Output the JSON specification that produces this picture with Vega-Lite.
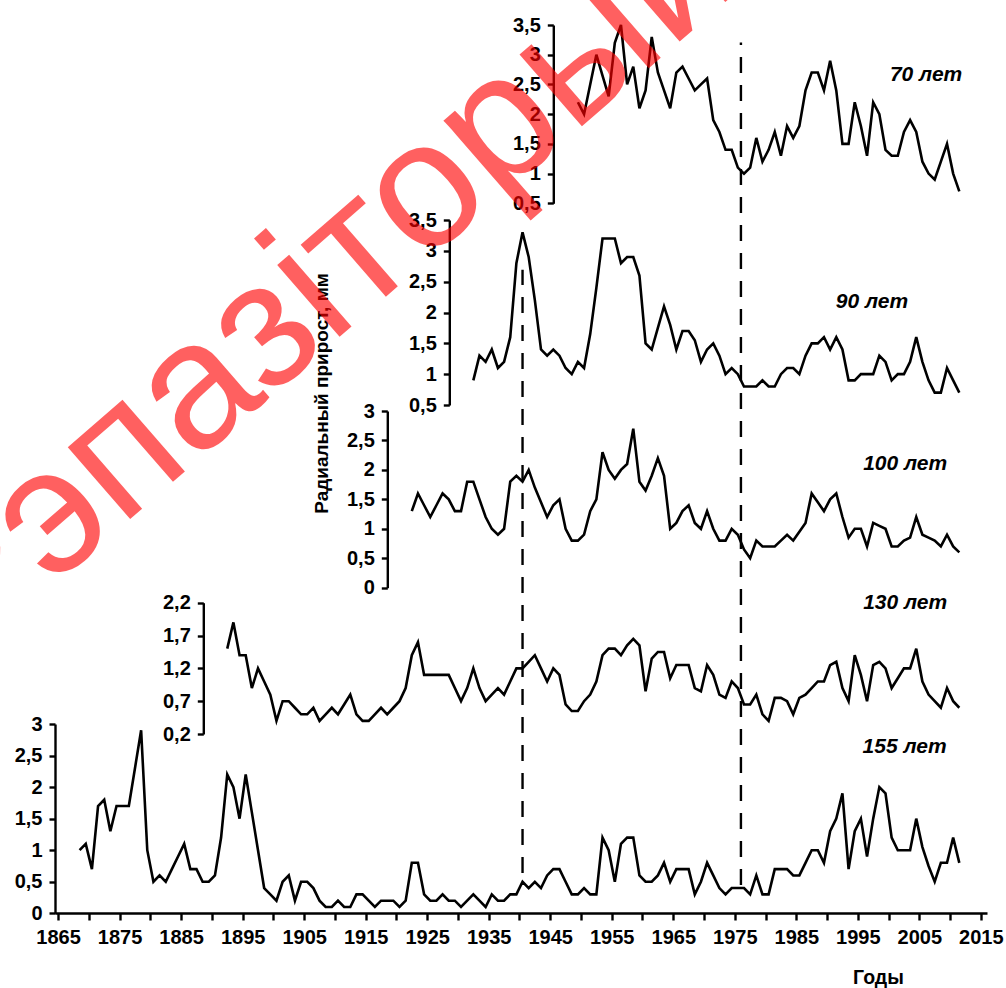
{
"$schema": "https://vega.github.io/schema/vega-lite/v6.json",
"width": 932, "height": 893,
"autosize": {"type": "none"},
"padding": {"left": 55, "top": 20, "right": 19, "bottom": 75},
"background": "white",
"config": {
 "view": {"stroke": null},
 "font": "Liberation Sans",
 "axis": {"grid": false, "domainColor": "black", "domainWidth": 2.4, "tickColor": "black", "tickWidth": 2.4, "labelColor": "black", "labelFont": "Liberation Sans", "labelFontWeight": "bold", "labelFontSize": 20, "labelFlush": false, "labelOverlap": false, "titleFont": "Liberation Sans", "titleFontWeight": "bold", "titleColor": "black", "titleFontSize": 19}
},
"datasets": {
 "s155": [
{"year":1868,"value":1.0},{"year":1869,"value":1.1},{"year":1870,"value":0.7},{"year":1871,"value":1.7},{"year":1872,"value":1.8},{"year":1873,"value":1.3},{"year":1874,"value":1.7},{"year":1875,"value":1.7},{"year":1876,"value":1.7},{"year":1877,"value":2.3},{"year":1878,"value":2.9},{"year":1879,"value":1.0},{"year":1880,"value":0.5},{"year":1881,"value":0.6},{"year":1882,"value":0.5},{"year":1883,"value":0.7},{"year":1884,"value":0.9},{"year":1885,"value":1.1},{"year":1886,"value":0.7},{"year":1887,"value":0.7},{"year":1888,"value":0.5},{"year":1889,"value":0.5},{"year":1890,"value":0.6},{"year":1891,"value":1.2},{"year":1892,"value":2.2},{"year":1893,"value":2.0},{"year":1894,"value":1.5},{"year":1895,"value":2.2},{"year":1896,"value":1.6},{"year":1897,"value":1.0},{"year":1898,"value":0.4},{"year":1899,"value":0.3},{"year":1900,"value":0.2},{"year":1901,"value":0.5},{"year":1902,"value":0.6},{"year":1903,"value":0.2},{"year":1904,"value":0.5},{"year":1905,"value":0.5},{"year":1906,"value":0.4},{"year":1907,"value":0.2},{"year":1908,"value":0.1},{"year":1909,"value":0.1},{"year":1910,"value":0.2},{"year":1911,"value":0.1},{"year":1912,"value":0.1},{"year":1913,"value":0.3},{"year":1914,"value":0.3},{"year":1915,"value":0.2},{"year":1916,"value":0.1},{"year":1917,"value":0.2},{"year":1918,"value":0.2},{"year":1919,"value":0.2},{"year":1920,"value":0.1},{"year":1921,"value":0.2},{"year":1922,"value":0.8},{"year":1923,"value":0.8},{"year":1924,"value":0.3},{"year":1925,"value":0.2},{"year":1926,"value":0.2},{"year":1927,"value":0.3},{"year":1928,"value":0.2},{"year":1929,"value":0.2},{"year":1930,"value":0.1},{"year":1931,"value":0.2},{"year":1932,"value":0.3},{"year":1933,"value":0.2},{"year":1934,"value":0.1},{"year":1935,"value":0.3},{"year":1936,"value":0.2},{"year":1937,"value":0.2},{"year":1938,"value":0.3},{"year":1939,"value":0.3},{"year":1940,"value":0.5},{"year":1941,"value":0.4},{"year":1942,"value":0.5},{"year":1943,"value":0.4},{"year":1944,"value":0.6},{"year":1945,"value":0.7},{"year":1946,"value":0.7},{"year":1947,"value":0.5},{"year":1948,"value":0.3},{"year":1949,"value":0.3},{"year":1950,"value":0.4},{"year":1951,"value":0.3},{"year":1952,"value":0.3},{"year":1953,"value":1.2},{"year":1954,"value":1.0},{"year":1955,"value":0.5},{"year":1956,"value":1.1},{"year":1957,"value":1.2},{"year":1958,"value":1.2},{"year":1959,"value":0.6},{"year":1960,"value":0.5},{"year":1961,"value":0.5},{"year":1962,"value":0.6},{"year":1963,"value":0.8},{"year":1964,"value":0.5},{"year":1965,"value":0.7},{"year":1966,"value":0.7},{"year":1967,"value":0.7},{"year":1968,"value":0.3},{"year":1969,"value":0.5},{"year":1970,"value":0.8},{"year":1971,"value":0.6},{"year":1972,"value":0.4},{"year":1973,"value":0.3},{"year":1974,"value":0.4},{"year":1975,"value":0.4},{"year":1976,"value":0.4},{"year":1977,"value":0.3},{"year":1978,"value":0.6},{"year":1979,"value":0.3},{"year":1980,"value":0.3},{"year":1981,"value":0.7},{"year":1982,"value":0.7},{"year":1983,"value":0.7},{"year":1984,"value":0.6},{"year":1985,"value":0.6},{"year":1986,"value":0.8},{"year":1987,"value":1.0},{"year":1988,"value":1.0},{"year":1989,"value":0.8},{"year":1990,"value":1.3},{"year":1991,"value":1.5},{"year":1992,"value":1.9},{"year":1993,"value":0.7},{"year":1994,"value":1.3},{"year":1995,"value":1.5},{"year":1996,"value":0.9},{"year":1997,"value":1.5},{"year":1998,"value":2.0},{"year":1999,"value":1.9},{"year":2000,"value":1.2},{"year":2001,"value":1.0},{"year":2002,"value":1.0},{"year":2003,"value":1.0},{"year":2004,"value":1.5},{"year":2005,"value":1.05},{"year":2006,"value":0.75},{"year":2007,"value":0.5},{"year":2008,"value":0.8},{"year":2009,"value":0.8},{"year":2010,"value":1.2},{"year":2011,"value":0.8}
 ],
 "s130": [
{"year":1892,"value":1.5},{"year":1893,"value":1.9},{"year":1894,"value":1.4},{"year":1895,"value":1.4},{"year":1896,"value":0.9},{"year":1897,"value":1.2},{"year":1898,"value":1.0},{"year":1899,"value":0.8},{"year":1900,"value":0.4},{"year":1901,"value":0.7},{"year":1902,"value":0.7},{"year":1903,"value":0.6},{"year":1904,"value":0.5},{"year":1905,"value":0.5},{"year":1906,"value":0.6},{"year":1907,"value":0.4},{"year":1908,"value":0.5},{"year":1909,"value":0.6},{"year":1910,"value":0.5},{"year":1911,"value":0.65},{"year":1912,"value":0.8},{"year":1913,"value":0.5},{"year":1914,"value":0.4},{"year":1915,"value":0.4},{"year":1916,"value":0.5},{"year":1917,"value":0.6},{"year":1918,"value":0.5},{"year":1919,"value":0.6},{"year":1920,"value":0.7},{"year":1921,"value":0.9},{"year":1922,"value":1.4},{"year":1923,"value":1.6},{"year":1924,"value":1.1},{"year":1925,"value":1.1},{"year":1926,"value":1.1},{"year":1927,"value":1.1},{"year":1928,"value":1.1},{"year":1929,"value":0.9},{"year":1930,"value":0.7},{"year":1931,"value":0.9},{"year":1932,"value":1.2},{"year":1933,"value":0.9},{"year":1934,"value":0.7},{"year":1935,"value":0.8},{"year":1936,"value":0.9},{"year":1937,"value":0.8},{"year":1938,"value":1.0},{"year":1939,"value":1.2},{"year":1940,"value":1.2},{"year":1941,"value":1.3},{"year":1942,"value":1.4},{"year":1943,"value":1.2},{"year":1944,"value":1.0},{"year":1945,"value":1.2},{"year":1946,"value":1.1},{"year":1947,"value":0.65},{"year":1948,"value":0.55},{"year":1949,"value":0.55},{"year":1950,"value":0.7},{"year":1951,"value":0.8},{"year":1952,"value":1.0},{"year":1953,"value":1.4},{"year":1954,"value":1.5},{"year":1955,"value":1.5},{"year":1956,"value":1.4},{"year":1957,"value":1.55},{"year":1958,"value":1.65},{"year":1959,"value":1.55},{"year":1960,"value":0.85},{"year":1961,"value":1.35},{"year":1962,"value":1.45},{"year":1963,"value":1.45},{"year":1964,"value":1.05},{"year":1965,"value":1.25},{"year":1966,"value":1.25},{"year":1967,"value":1.25},{"year":1968,"value":0.9},{"year":1969,"value":0.85},{"year":1970,"value":1.25},{"year":1971,"value":1.1},{"year":1972,"value":0.8},{"year":1973,"value":0.75},{"year":1974,"value":1.0},{"year":1975,"value":0.9},{"year":1976,"value":0.65},{"year":1977,"value":0.65},{"year":1978,"value":0.8},{"year":1979,"value":0.5},{"year":1980,"value":0.4},{"year":1981,"value":0.75},{"year":1982,"value":0.75},{"year":1983,"value":0.7},{"year":1984,"value":0.5},{"year":1985,"value":0.75},{"year":1986,"value":0.8},{"year":1987,"value":0.9},{"year":1988,"value":1.0},{"year":1989,"value":1.0},{"year":1990,"value":1.25},{"year":1991,"value":1.3},{"year":1992,"value":0.9},{"year":1993,"value":0.7},{"year":1994,"value":1.4},{"year":1995,"value":1.1},{"year":1996,"value":0.7},{"year":1997,"value":1.25},{"year":1998,"value":1.3},{"year":1999,"value":1.2},{"year":2000,"value":0.9},{"year":2001,"value":1.05},{"year":2002,"value":1.2},{"year":2003,"value":1.2},{"year":2004,"value":1.5},{"year":2005,"value":1.0},{"year":2006,"value":0.8},{"year":2007,"value":0.7},{"year":2008,"value":0.6},{"year":2009,"value":0.9},{"year":2010,"value":0.7},{"year":2011,"value":0.6}
 ],
 "s100": [
{"year":1922,"value":1.3},{"year":1923,"value":1.6},{"year":1924,"value":1.4},{"year":1925,"value":1.2},{"year":1926,"value":1.4},{"year":1927,"value":1.6},{"year":1928,"value":1.5},{"year":1929,"value":1.3},{"year":1930,"value":1.3},{"year":1931,"value":1.8},{"year":1932,"value":1.8},{"year":1933,"value":1.5},{"year":1934,"value":1.2},{"year":1935,"value":1.0},{"year":1936,"value":0.9},{"year":1937,"value":1.0},{"year":1938,"value":1.8},{"year":1939,"value":1.9},{"year":1940,"value":1.8},{"year":1941,"value":2.0},{"year":1942,"value":1.7},{"year":1943,"value":1.45},{"year":1944,"value":1.2},{"year":1945,"value":1.4},{"year":1946,"value":1.5},{"year":1947,"value":1.0},{"year":1948,"value":0.8},{"year":1949,"value":0.8},{"year":1950,"value":0.9},{"year":1951,"value":1.3},{"year":1952,"value":1.5},{"year":1953,"value":2.3},{"year":1954,"value":2.0},{"year":1955,"value":1.85},{"year":1956,"value":2.0},{"year":1957,"value":2.1},{"year":1958,"value":2.7},{"year":1959,"value":1.8},{"year":1960,"value":1.65},{"year":1961,"value":1.9},{"year":1962,"value":2.2},{"year":1963,"value":1.9},{"year":1964,"value":1.0},{"year":1965,"value":1.1},{"year":1966,"value":1.3},{"year":1967,"value":1.4},{"year":1968,"value":1.1},{"year":1969,"value":1.0},{"year":1970,"value":1.3},{"year":1971,"value":1.0},{"year":1972,"value":0.8},{"year":1973,"value":0.8},{"year":1974,"value":1.0},{"year":1975,"value":0.9},{"year":1976,"value":0.65},{"year":1977,"value":0.5},{"year":1978,"value":0.8},{"year":1979,"value":0.7},{"year":1980,"value":0.7},{"year":1981,"value":0.7},{"year":1982,"value":0.8},{"year":1983,"value":0.9},{"year":1984,"value":0.8},{"year":1985,"value":0.95},{"year":1986,"value":1.1},{"year":1987,"value":1.6},{"year":1988,"value":1.45},{"year":1989,"value":1.3},{"year":1990,"value":1.5},{"year":1991,"value":1.6},{"year":1992,"value":1.2},{"year":1993,"value":0.85},{"year":1994,"value":1.0},{"year":1995,"value":1.0},{"year":1996,"value":0.7},{"year":1997,"value":1.1},{"year":1998,"value":1.05},{"year":1999,"value":1.0},{"year":2000,"value":0.7},{"year":2001,"value":0.7},{"year":2002,"value":0.8},{"year":2003,"value":0.85},{"year":2004,"value":1.2},{"year":2005,"value":0.9},{"year":2006,"value":0.85},{"year":2007,"value":0.8},{"year":2008,"value":0.7},{"year":2009,"value":0.9},{"year":2010,"value":0.7},{"year":2011,"value":0.6}
 ],
 "s90": [
{"year":1932,"value":0.9},{"year":1933,"value":1.3},{"year":1934,"value":1.2},{"year":1935,"value":1.4},{"year":1936,"value":1.1},{"year":1937,"value":1.2},{"year":1938,"value":1.6},{"year":1939,"value":2.8},{"year":1940,"value":3.3},{"year":1941,"value":2.9},{"year":1942,"value":2.2},{"year":1943,"value":1.4},{"year":1944,"value":1.3},{"year":1945,"value":1.4},{"year":1946,"value":1.3},{"year":1947,"value":1.1},{"year":1948,"value":1.0},{"year":1949,"value":1.2},{"year":1950,"value":1.1},{"year":1951,"value":1.65},{"year":1952,"value":2.4},{"year":1953,"value":3.2},{"year":1954,"value":3.2},{"year":1955,"value":3.2},{"year":1956,"value":2.8},{"year":1957,"value":2.9},{"year":1958,"value":2.9},{"year":1959,"value":2.6},{"year":1960,"value":1.5},{"year":1961,"value":1.4},{"year":1962,"value":1.75},{"year":1963,"value":2.1},{"year":1964,"value":1.8},{"year":1965,"value":1.4},{"year":1966,"value":1.7},{"year":1967,"value":1.7},{"year":1968,"value":1.55},{"year":1969,"value":1.2},{"year":1970,"value":1.4},{"year":1971,"value":1.5},{"year":1972,"value":1.3},{"year":1973,"value":1.0},{"year":1974,"value":1.1},{"year":1975,"value":1.0},{"year":1976,"value":0.8},{"year":1977,"value":0.8},{"year":1978,"value":0.8},{"year":1979,"value":0.9},{"year":1980,"value":0.8},{"year":1981,"value":0.8},{"year":1982,"value":1.0},{"year":1983,"value":1.1},{"year":1984,"value":1.1},{"year":1985,"value":1.0},{"year":1986,"value":1.3},{"year":1987,"value":1.5},{"year":1988,"value":1.5},{"year":1989,"value":1.6},{"year":1990,"value":1.4},{"year":1991,"value":1.6},{"year":1992,"value":1.4},{"year":1993,"value":0.9},{"year":1994,"value":0.9},{"year":1995,"value":1.0},{"year":1996,"value":1.0},{"year":1997,"value":1.0},{"year":1998,"value":1.3},{"year":1999,"value":1.2},{"year":2000,"value":0.9},{"year":2001,"value":1.0},{"year":2002,"value":1.0},{"year":2003,"value":1.2},{"year":2004,"value":1.6},{"year":2005,"value":1.2},{"year":2006,"value":0.9},{"year":2007,"value":0.7},{"year":2008,"value":0.7},{"year":2009,"value":1.1},{"year":2010,"value":0.9},{"year":2011,"value":0.7}
 ],
 "s70": [
{"year":1949,"value":2.2},{"year":1950,"value":2.0},{"year":1951,"value":2.5},{"year":1952,"value":3.0},{"year":1953,"value":2.65},{"year":1954,"value":2.3},{"year":1955,"value":3.2},{"year":1956,"value":3.5},{"year":1957,"value":2.5},{"year":1958,"value":2.8},{"year":1959,"value":2.1},{"year":1960,"value":2.4},{"year":1961,"value":3.3},{"year":1962,"value":2.7},{"year":1963,"value":2.4},{"year":1964,"value":2.1},{"year":1965,"value":2.7},{"year":1966,"value":2.8},{"year":1967,"value":2.6},{"year":1968,"value":2.4},{"year":1969,"value":2.5},{"year":1970,"value":2.6},{"year":1971,"value":1.9},{"year":1972,"value":1.7},{"year":1973,"value":1.4},{"year":1974,"value":1.4},{"year":1975,"value":1.1},{"year":1976,"value":1.0},{"year":1977,"value":1.1},{"year":1978,"value":1.6},{"year":1979,"value":1.2},{"year":1980,"value":1.4},{"year":1981,"value":1.7},{"year":1982,"value":1.3},{"year":1983,"value":1.8},{"year":1984,"value":1.6},{"year":1985,"value":1.8},{"year":1986,"value":2.4},{"year":1987,"value":2.7},{"year":1988,"value":2.7},{"year":1989,"value":2.4},{"year":1990,"value":2.9},{"year":1991,"value":2.4},{"year":1992,"value":1.5},{"year":1993,"value":1.5},{"year":1994,"value":2.2},{"year":1995,"value":1.8},{"year":1996,"value":1.3},{"year":1997,"value":2.2},{"year":1998,"value":2.0},{"year":1999,"value":1.4},{"year":2000,"value":1.3},{"year":2001,"value":1.3},{"year":2002,"value":1.7},{"year":2003,"value":1.9},{"year":2004,"value":1.7},{"year":2005,"value":1.2},{"year":2006,"value":1.0},{"year":2007,"value":0.9},{"year":2008,"value":1.2},{"year":2009,"value":1.5},{"year":2010,"value":1.0},{"year":2011,"value":0.7}
 ]
},
"encoding": {
 "x": {"field": "year", "type": "quantitative",
  "scale": {"domain": [1864, 2015.5], "nice": false, "zero": false},
  "axis": {"orient": "bottom", "values": [1864.5,1869.5,1874.5,1879.5,1884.5,1889.5,1894.5,1899.5,1904.5,1909.5,1914.5,1919.5,1924.5,1929.5,1934.5,1939.5,1944.5,1949.5,1954.5,1959.5,1964.5,1969.5,1974.5,1979.5,1984.5,1989.5,1994.5,1999.5,2004.5,2009.5,2014.5],
   "labelExpr": "(datum.value - 1864.5) % 10 == 0 ? format(datum.value, '.0f') : ''",
   "tickSize": 7, "labelPadding": 7, "labelFontSize": 20,
   "title": "Годы", "titleX": 823, "titleY": 64, "titleAlign": "center", "titleBaseline": "middle", "titleFontSize": 19.5}
 }
},
"layer": [
 {"layer": [
  {"data": {"name": "s155"}, "mark": {"type": "line", "color": "black", "strokeWidth": 2.6},
   "encoding": {"y": {"field": "value", "type": "quantitative",
    "scale": {"domain": [0, 3], "range": [893.3, 704], "nice": false, "zero": false},
    "axis": {"orient": "left", "offset": 0, "values": [0,0.5,1,1.5,2,2.5,3], "labelExpr": "replace(format(datum.value, '.1~f'), '.', ',')", "title": null, "tickSize": 6, "labelPadding": 7}}}},
  {"data": {"values": [{"year": 1940, "from": 0.64, "to": 10.2}, {"year": 1975.5, "from": 0.45, "to": 13.8}]},
   "mark": {"type": "rule", "color": "black", "strokeWidth": 2.4, "strokeDash": [16, 12]},
   "encoding": {"y": {"field": "from", "type": "quantitative",
    "axis": {"orient": "left", "offset": 0, "values": [0,0.5,1,1.5,2,2.5,3], "labelExpr": "replace(format(datum.value, '.1~f'), '.', ',')", "title": null, "tickSize": 6, "labelPadding": 7}}, "y2": {"field": "to"}}},
  {"data": {"values": [{"year": 2002.1, "value": 2.64, "label": "155 лет"}]},
   "mark": {"type": "text", "font": "Liberation Sans", "fontSize": 21, "fontWeight": "bold", "fontStyle": "italic", "align": "center", "baseline": "middle", "color": "black"},
   "encoding": {"y": {"field": "value", "type": "quantitative",
    "axis": {"orient": "left", "offset": 0, "values": [0,0.5,1,1.5,2,2.5,3], "labelExpr": "replace(format(datum.value, '.1~f'), '.', ',')", "title": null, "tickSize": 6, "labelPadding": 7}}, "text": {"field": "label"}}}
 ]},
 {"layer": [
  {"data": {"name": "s130"}, "mark": {"type": "line", "color": "black", "strokeWidth": 2.6},
   "encoding": {"y": {"field": "value", "type": "quantitative",
    "scale": {"domain": [0.2, 2.2], "range": [714, 582.7], "nice": false, "zero": false},
    "axis": {"orient": "left", "offset": -148.3, "values": [0.2,0.7,1.2,1.7,2.2], "labelExpr": "replace(format(datum.value, '.1~f'), '.', ',')", "title": null, "tickSize": 6, "labelPadding": 7}}}},
  {"data": {"values": [{"year": 2002.2, "value": 2.19, "label": "130 лет"}]},
   "mark": {"type": "text", "font": "Liberation Sans", "fontSize": 21, "fontWeight": "bold", "fontStyle": "italic", "align": "center", "baseline": "middle", "color": "black"},
   "encoding": {"y": {"field": "value", "type": "quantitative",
    "axis": {"orient": "left", "offset": -148.3, "values": [0.2,0.7,1.2,1.7,2.2], "labelExpr": "replace(format(datum.value, '.1~f'), '.', ',')", "title": null, "tickSize": 6, "labelPadding": 7}}, "text": {"field": "label"}}}
 ]},
 {"layer": [
  {"data": {"name": "s100"}, "mark": {"type": "line", "color": "black", "strokeWidth": 2.6},
   "encoding": {"y": {"field": "value", "type": "quantitative",
    "scale": {"domain": [0, 3], "range": [567.7, 391], "nice": false, "zero": false},
    "axis": {"orient": "left", "offset": -332.3, "values": [0,0.5,1,1.5,2,2.5,3], "labelExpr": "replace(format(datum.value, '.1~f'), '.', ',')", "tickSize": 6, "labelPadding": 7,
     "title": "Радиальный прирост, мм", "titleX": -65.6, "titleY": 373, "titleAngle": 270, "titleAlign": "center", "titleBaseline": "middle", "titleFontSize": 19}}}},
  {"data": {"values": [{"year": 2002.2, "value": 2.1, "label": "100 лет"}]},
   "mark": {"type": "text", "font": "Liberation Sans", "fontSize": 21, "fontWeight": "bold", "fontStyle": "italic", "align": "center", "baseline": "middle", "color": "black"},
   "encoding": {"y": {"field": "value", "type": "quantitative",
    "axis": {"orient": "left", "offset": -332.3, "values": [0,0.5,1,1.5,2,2.5,3], "labelExpr": "replace(format(datum.value, '.1~f'), '.', ',')", "tickSize": 6, "labelPadding": 7,
     "title": "Радиальный прирост, мм", "titleX": -65.6, "titleY": 373, "titleAngle": 270, "titleAlign": "center", "titleBaseline": "middle", "titleFontSize": 19}}, "text": {"field": "label"}}}
 ]},
 {"layer": [
  {"data": {"name": "s90"}, "mark": {"type": "line", "color": "black", "strokeWidth": 2.6},
   "encoding": {"y": {"field": "value", "type": "quantitative",
    "scale": {"domain": [0.5, 3.5], "range": [385, 200], "nice": false, "zero": false},
    "axis": {"orient": "left", "offset": -394.3, "values": [0.5,1,1.5,2,2.5,3,3.5], "labelExpr": "replace(format(datum.value, '.1~f'), '.', ',')", "title": null, "tickSize": 6, "labelPadding": 7}}}},
  {"data": {"values": [{"year": 1996.8, "value": 2.17, "label": "90 лет"}]},
   "mark": {"type": "text", "font": "Liberation Sans", "fontSize": 21, "fontWeight": "bold", "fontStyle": "italic", "align": "center", "baseline": "middle", "color": "black"},
   "encoding": {"y": {"field": "value", "type": "quantitative",
    "axis": {"orient": "left", "offset": -394.3, "values": [0.5,1,1.5,2,2.5,3,3.5], "labelExpr": "replace(format(datum.value, '.1~f'), '.', ',')", "title": null, "tickSize": 6, "labelPadding": 7}}, "text": {"field": "label"}}}
 ]},
 {"layer": [
  {"data": {"name": "s70"}, "mark": {"type": "line", "color": "black", "strokeWidth": 2.6},
   "encoding": {"y": {"field": "value", "type": "quantitative",
    "scale": {"domain": [0.5, 3.5], "range": [183.3, 5], "nice": false, "zero": false},
    "axis": {"orient": "left", "offset": -498.3, "values": [0.5,1,1.5,2,2.5,3,3.5], "labelExpr": "replace(format(datum.value, '.1~f'), '.', ',')", "title": null, "tickSize": 6, "labelPadding": 7}}}},
  {"data": {"values": [{"year": 2005.6, "value": 2.66, "label": "70 лет"}]},
   "mark": {"type": "text", "font": "Liberation Sans", "fontSize": 21, "fontWeight": "bold", "fontStyle": "italic", "align": "center", "baseline": "middle", "color": "black"},
   "encoding": {"y": {"field": "value", "type": "quantitative",
    "axis": {"orient": "left", "offset": -498.3, "values": [0.5,1,1.5,2,2.5,3,3.5], "labelExpr": "replace(format(datum.value, '.1~f'), '.', ',')", "title": null, "tickSize": 6, "labelPadding": 7}}, "text": {"field": "label"}}},
  {"data": {"values": [{"year": 1907, "value": -0.84, "label": "Рэпазіторый"}]},
   "mark": {"type": "text", "font": "Liberation Sans", "fontSize": 180, "angle": -41, "align": "center", "baseline": "middle", "color": "#ff0000", "opacity": 0.62},
   "encoding": {"y": {"field": "value", "type": "quantitative",
    "axis": {"orient": "left", "offset": -498.3, "values": [0.5,1,1.5,2,2.5,3,3.5], "labelExpr": "replace(format(datum.value, '.1~f'), '.', ',')", "title": null, "tickSize": 6, "labelPadding": 7}}, "text": {"field": "label"}}}
 ]}
],
"resolve": {"scale": {"y": "independent"}, "axis": {"y": "independent"}}
}
